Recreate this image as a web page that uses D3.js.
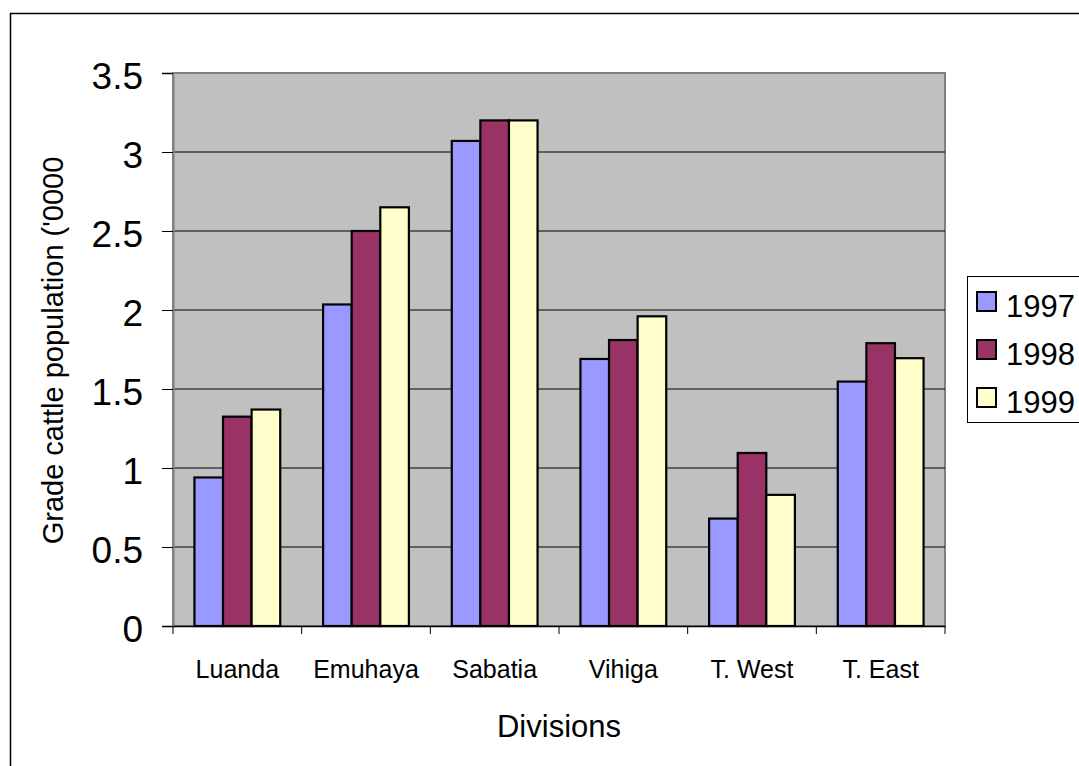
<!DOCTYPE html>
<html>
<head>
<meta charset="utf-8">
<script src="https://cdn.jsdelivr.net/npm/d3@7"></script>
<style>
  html, body { margin: 0; padding: 0; background: #fff; }
  svg { display: block; font-family: "Liberation Sans", Arial, sans-serif; }
</style>
</head>
<body>
<svg id="chart" width="1079" height="766"></svg>
<script>
// Grade cattle population by division, three survey years
const divisions = ["Luanda", "Emuhaya", "Sabatia", "Vihiga", "T. West", "T. East"];
const years = ["1997", "1998", "1999"];
const values1997 = [0.94, 2.035, 3.07, 1.69, 0.68, 1.547];
const values1998 = [1.325, 2.5, 3.2, 1.81, 1.095, 1.79];
const values1999 = [1.37, 2.65, 3.2, 1.96, 0.83, 1.695];
const yTicks = [0, 0.5, 1, 1.5, 2, 2.5, 3, 3.5];
const yTickLabels = ["0", "0.5", "1", "1.5", "2", "2.5", "3", "3.5"];
const seriesColors = ["#9999FF", "#993366", "#FFFFCC"];

const seriesValues = [values1997, values1998, values1999];
const rows = divisions.map((d, i) => ({
  division: d,
  bars: years.map((y, k) => ({ year: y, value: seriesValues[k][i], k }))
}));

const svg = d3.select("#chart");

// outer chart frame
svg.append("rect")
  .attr("x", 10.5).attr("y", 13.5)
  .attr("width", 1200).attr("height", 900)
  .attr("fill", "#fff").attr("stroke", "#000").attr("stroke-width", 1.5);

const plot = { left: 173, right: 945, top: 73, bottom: 626 };

const x0 = d3.scaleBand().domain(divisions).range([plot.left, plot.right]).padding(0);
const x1 = d3.scaleBand().domain(years).range([0, x0.bandwidth()])
  .paddingInner(0).paddingOuter(0.75);
const y = d3.scaleLinear().domain([0, 3.5]).range([plot.bottom, plot.top]);

// plot background
svg.append("rect")
  .attr("x", plot.left).attr("y", plot.top)
  .attr("width", plot.right - plot.left).attr("height", plot.bottom - plot.top)
  .attr("fill", "#C0C0C0").attr("stroke", "#808080").attr("stroke-width", 2);

// horizontal gridlines
svg.append("g").selectAll("line")
  .data(yTicks.filter(t => t > 0 && t < 3.5))
  .join("line")
  .attr("x1", plot.left).attr("x2", plot.right)
  .attr("y1", d => y(d)).attr("y2", d => y(d))
  .attr("stroke", "#000").attr("stroke-width", 1);

// bars
const groups = svg.append("g").selectAll("g")
  .data(rows).join("g")
  .attr("transform", d => `translate(${x0(d.division)},0)`);

groups.selectAll("rect")
  .data(d => d.bars).join("rect")
  .attr("x", d => x1(d.year))
  .attr("y", d => y(d.value))
  .attr("width", x1.bandwidth())
  .attr("height", d => y(0) - y(d.value))
  .attr("fill", d => seriesColors[d.k])
  .attr("stroke", "#000").attr("stroke-width", 2.2);

// y axis
const yAxis = d3.axisLeft(y)
  .tickValues(yTicks)
  .tickFormat((d, i) => yTickLabels[i])
  .tickSize(11).tickPadding(19);
const gy = svg.append("g").attr("transform", `translate(${plot.left},0)`).call(yAxis);
gy.select(".domain").attr("stroke", "#808080").attr("stroke-width", 2);
gy.selectAll(".tick line").attr("stroke", "#000");
gy.selectAll(".tick text")
  .attr("font-size", 37).attr("fill", "#000")
  .attr("font-family", "'Liberation Sans', Arial, sans-serif")
  .attr("dy", "0.42em");

// x axis with ticks on category boundaries
const xAxis = d3.axisBottom(x0).tickSize(0).tickPadding(34);
const gx = svg.append("g").attr("transform", `translate(0,${plot.bottom})`).call(xAxis);
gx.select(".domain").attr("stroke", "#000").attr("stroke-width", 1.5);
gx.selectAll(".tick text")
  .attr("font-size", 25).attr("fill", "#000")
  .attr("font-family", "'Liberation Sans', Arial, sans-serif");

const boundaries = divisions.map(d => x0(d)).concat([plot.right]);
svg.append("g").selectAll("line")
  .data(boundaries).join("line")
  .attr("x1", d => d).attr("x2", d => d)
  .attr("y1", plot.bottom).attr("y2", plot.bottom + 8)
  .attr("stroke", "#000").attr("stroke-width", 1);

// axis titles
svg.append("text")
  .attr("x", (plot.left + plot.right) / 2).attr("y", 737)
  .attr("text-anchor", "middle").attr("font-size", 31)
  .text("Divisions");

svg.append("text")
  .attr("transform", `translate(63,${(plot.top + plot.bottom) / 2 + 1}) rotate(-90)`)
  .attr("text-anchor", "middle").attr("font-size", 29)
  .text("Grade cattle population ('0000");

// legend
const legend = svg.append("g").attr("transform", "translate(967,276)");
legend.append("rect")
  .attr("x", 0.5).attr("y", 0.5).attr("width", 200).attr("height", 146)
  .attr("fill", "#fff").attr("stroke", "#000").attr("stroke-width", 1);
const items = legend.selectAll("g.item")
  .data(years).join("g").attr("class", "item")
  .attr("transform", (d, i) => `translate(0,${16 + i * 48})`);
items.append("rect")
  .attr("x", 10).attr("y", 0).attr("width", 19).attr("height", 19)
  .attr("fill", (d, i) => seriesColors[i])
  .attr("stroke", "#000").attr("stroke-width", 2);
items.append("text")
  .attr("x", 39).attr("y", 25)
  .attr("font-size", 31)
  .text(d => d);
</script>
</body>
</html>
